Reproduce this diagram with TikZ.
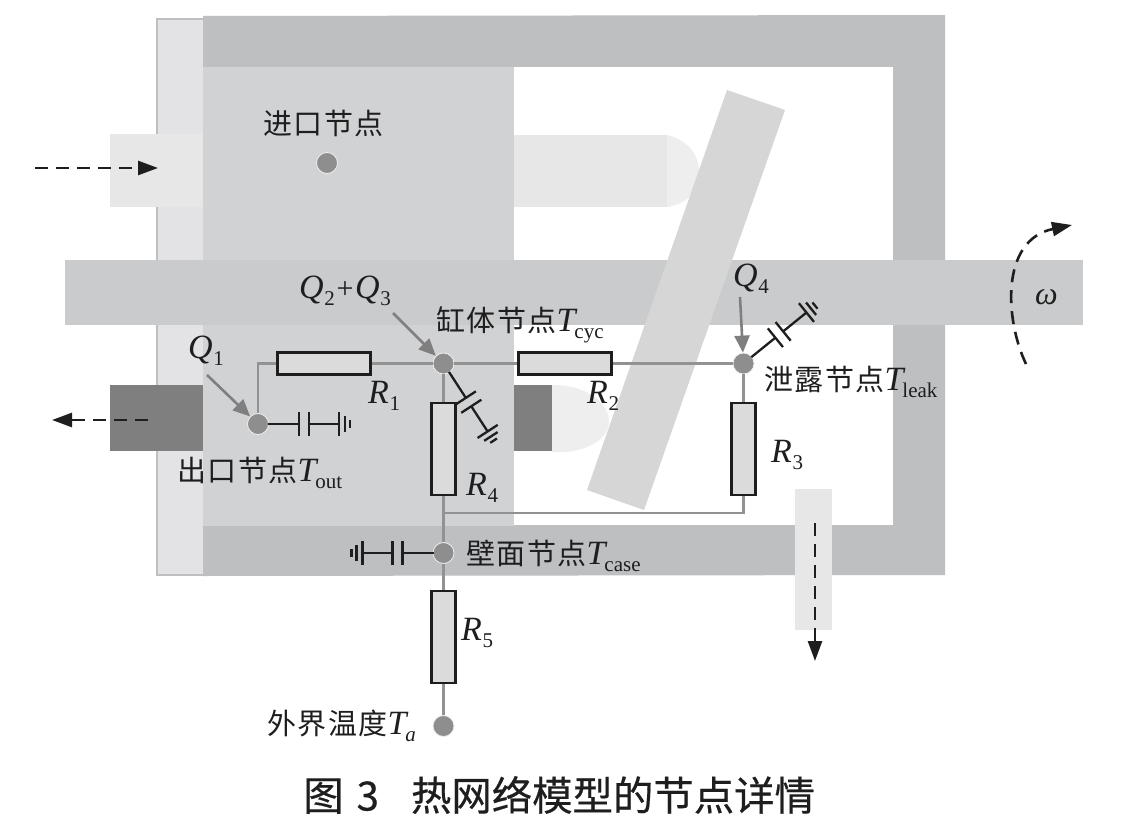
\documentclass[tikz,border=0pt]{standalone}
\usepackage{fontspec}
\setmainfont{Liberation Serif}
\newfontfamily\cjkf{Noto Sans CJK SC}
\newfontfamily\cjkt[FakeBold=0.4]{Noto Sans CJK SC}
\usetikzlibrary{arrows.meta}
\definecolor{wallc}{HTML}{BEBFC1}
\definecolor{endc}{HTML}{E3E3E5}
\definecolor{blockc}{HTML}{D1D2D4}
\definecolor{shaftc}{HTML}{CACBCC}
\definecolor{platec}{HTML}{D6D6D6}
\definecolor{lightc}{HTML}{E7E7E7}
\definecolor{domec}{HTML}{EEEEEE}
\definecolor{darkc}{HTML}{7F7F7F}
\definecolor{nodec}{HTML}{8E8E8E}
\definecolor{wirec}{HTML}{929292}
\definecolor{inkc}{HTML}{1E1E1E}
\newcommand{\cjktxt}[1]{{\cjkf\fontsize{29}{32}\selectfont\addfontfeature{LetterSpace=5}#1}}
\newcommand{\vr}[2]{{\fontsize{34}{36}\selectfont\itshape #1\kern0.02em\raisebox{-0.22em}{\fontsize{21}{24}\selectfont\upshape #2}}}
\newcommand{\vsub}[3]{\mbox{\cjktxt{#1}{\fontsize{34}{36}\selectfont\itshape #2\kern-0.03em\raisebox{-0.2em}{\fontsize{21}{24}\selectfont\upshape #3}}}}
\newcommand{\capgnd}[2]{%
  \begin{scope}[shift={(#1)},rotate=#2,capline]
    \draw (10,0) -- (41,0);
    \draw (41,-12) -- (41,12);
    \draw (51,-12) -- (51,12);
    \draw (51,0) -- (81,0);
    \draw (81,-12) -- (81,12);
    \draw (87,-8) -- (87,8);
    \draw (92,-4) -- (92,4);
  \end{scope}}
\tikzset{
  capline/.style={draw=inkc,line width=2.3pt},
  netnode/.style={circle,fill=nodec,draw=white!85!nodec,line width=0.8pt,minimum size=21pt,inner sep=0pt},
  hres/.style={rectangle,draw=inkc,fill=lightc!95!black,line width=2.6pt,minimum width=93pt,minimum height=22pt,inner sep=0pt},
  vres/.style={rectangle,draw=inkc,fill=lightc!95!black,line width=2.6pt,minimum width=24pt,minimum height=92pt,inner sep=0pt},
  wire/.style={draw=wirec,line width=2.4pt},
  heat/.style={draw=darkc,line width=2.6pt,-{Triangle[length=17pt,width=15pt]}},
  flow/.style={draw=inkc,line width=2.6pt,dash pattern=on 13pt off 8pt,-{Triangle[length=20pt,width=14pt]}},
  lab/.style={inner sep=0pt,text=inkc,anchor=west}
}
\begin{document}
\begin{tikzpicture}[x=1pt,y=-1pt]
\useasboundingbox (0,0) rectangle (1148,832);
\fill[white] (0,0) rectangle (1148,832);
% housing
\fill[wallc] (203,16) -- (945,15) -- (945,575) -- (203,576) -- cycle;
\fill[white] (514,67) rectangle (893,525);
\fill[blockc] (203,67) rectangle (514,526);
\filldraw[fill=endc,draw=wallc,line width=1.5pt] (203,19) -- (157,19) -- (157,575) -- (203,575);
\fill[endc] (160,20) rectangle (203,574);
% inlet and pistons
\fill[lightc] (110,134) rectangle (203,207);
\fill[domec] (667,135) .. controls (688,140) and (699,155) .. (699,172) .. controls (699,190) and (688,204) .. (667,207) -- cycle;
\fill[lightc] (514,135) rectangle (667,207);
% shaft
\fill[shaftc] (65,260) rectangle (1083,325);
% outlet parts
\fill[darkc] (110,385) rectangle (203,451);
\fill[domec] (552,385) .. controls (590,385) and (609,405) .. (609,421) .. controls (609,440) and (585,454) .. (552,452) -- cycle;
\fill[darkc] (514,385) rectangle (552,451);
% swash plate
\fill[platec] (727,90) -- (785,110) -- (644,510) -- (587,490) -- cycle;
% drain
\fill[lightc] (795,489) rectangle (832,630);
% network nodes
\node[netnode] (inlet) at (327,163) {};
\node[netnode] (out) at (258,424) {};
\node[netnode] (cyc) at (443.5,363.5) {};
\node[netnode] (leak) at (743.5,363.5) {};
\node[netnode] (case) at (443.5,553) {};
\node[netnode] (amb) at (443.5,726) {};
\node[hres] (r1) at (324,363.5) {};
\node[hres] (r2) at (565,363.5) {};
\node[vres] (r4) at (443.5,449) {};
\node[vres] (r3) at (743.5,449) {};
\node[vres] (r5) at (443.5,637) {};
\coordinate (junc) at (443.5,513);
% wires
\draw[wire] (out) |- (r1);
\draw[wire] (r1) -- (cyc);
\draw[wire] (cyc) -- (r2);
\draw[wire] (r2) -- (leak);
\draw[wire] (leak) -- (r3);
\draw[wire] (cyc) -- (r4);
\draw[wire] (r4) -- (case);
\draw[wire] (r3) |- (junc);
\draw[wire] (case) -- (r5);
\draw[wire] (r5) -- (amb);
% capacitors
\capgnd{out}{0}
\capgnd{cyc}{-57}
\capgnd{leak}{39}
\capgnd{case}{180}
% labels
\node[lab] (tinlet) at (263,123) {\cjktxt{进口节点}};
\node[lab] (tq23) at (299,291) {\vr{Q}{2}\,{\fontsize{30}{33}\selectfont+}\,\vr{Q}{3}};
\node[lab] (tq1) at (188,351) {\vr{Q}{1}};
\node[lab] (tq4) at (733,279) {\vr{Q}{4}};
\node[lab] (tcyc) at (436,325) {\vsub{缸体节点}{T}{cyc}};
\node[lab] (tleak) at (764,382) {\vsub{泄露节点}{T}{leak}};
\node[lab] (tout) at (177,473) {\vsub{出口节点}{T}{out}};
\node[lab] (tcase) at (466,556) {\vsub{壁面节点}{T}{case}};
\node[lab] (tamb) at (267,726) {\mbox{\cjktxt{外界温度}{\fontsize{34}{36}\selectfont\itshape T\kern-0.03em\raisebox{-0.2em}{\fontsize{21}{24}\selectfont a}}}};
\node[lab] (tr1) at (368,396) {\vr{R}{1}};
\node[lab] (tr2) at (587,396) {\vr{R}{2}};
\node[lab] (tr3) at (771,455) {\vr{R}{3}};
\node[lab] (tr4) at (466,488) {\vr{R}{4}};
\node[lab] (tr5) at (461,633) {\vr{R}{5}};
\node[lab] (tw) at (1035,297) {{\fontsize{32}{33}\selectfont\itshape ω}};
\node[inner sep=0pt,anchor=west,text=inkc] (title) at (303,795) {\cjkt\fontsize{40.4}{44}\selectfont 图\hspace{13pt}3\hspace{32pt}热网络模型的节点详情};
% heat arrows
\coordinate (q1s) at (207,375);
\coordinate (q23s) at (393,313);
\coordinate (q4s) at (740,297);
\draw[heat] (q1s) -- (out);
\draw[heat] (q23s) -- (cyc);
\draw[heat] (q4s) -- (leak);
% flow arrows
\coordinate (fin0) at (35,168);
\coordinate (fin1) at (158,168);
\coordinate (fout0) at (148,420);
\coordinate (fout1) at (52,420);
\coordinate (fdr0) at (815,523);
\coordinate (fdr1) at (815,661);
\coordinate (rot0) at (1026,364);
\coordinate (rot1) at (1072,225);
\draw[flow] (fin0) -- (fin1);
\draw[flow] (fout0) -- (fout1);
\draw[flow] (fdr0) -- (fdr1);
\draw[flow] (rot0) .. controls (1005,320) and (1000,240) .. (rot1);
\end{tikzpicture}
\end{document}
